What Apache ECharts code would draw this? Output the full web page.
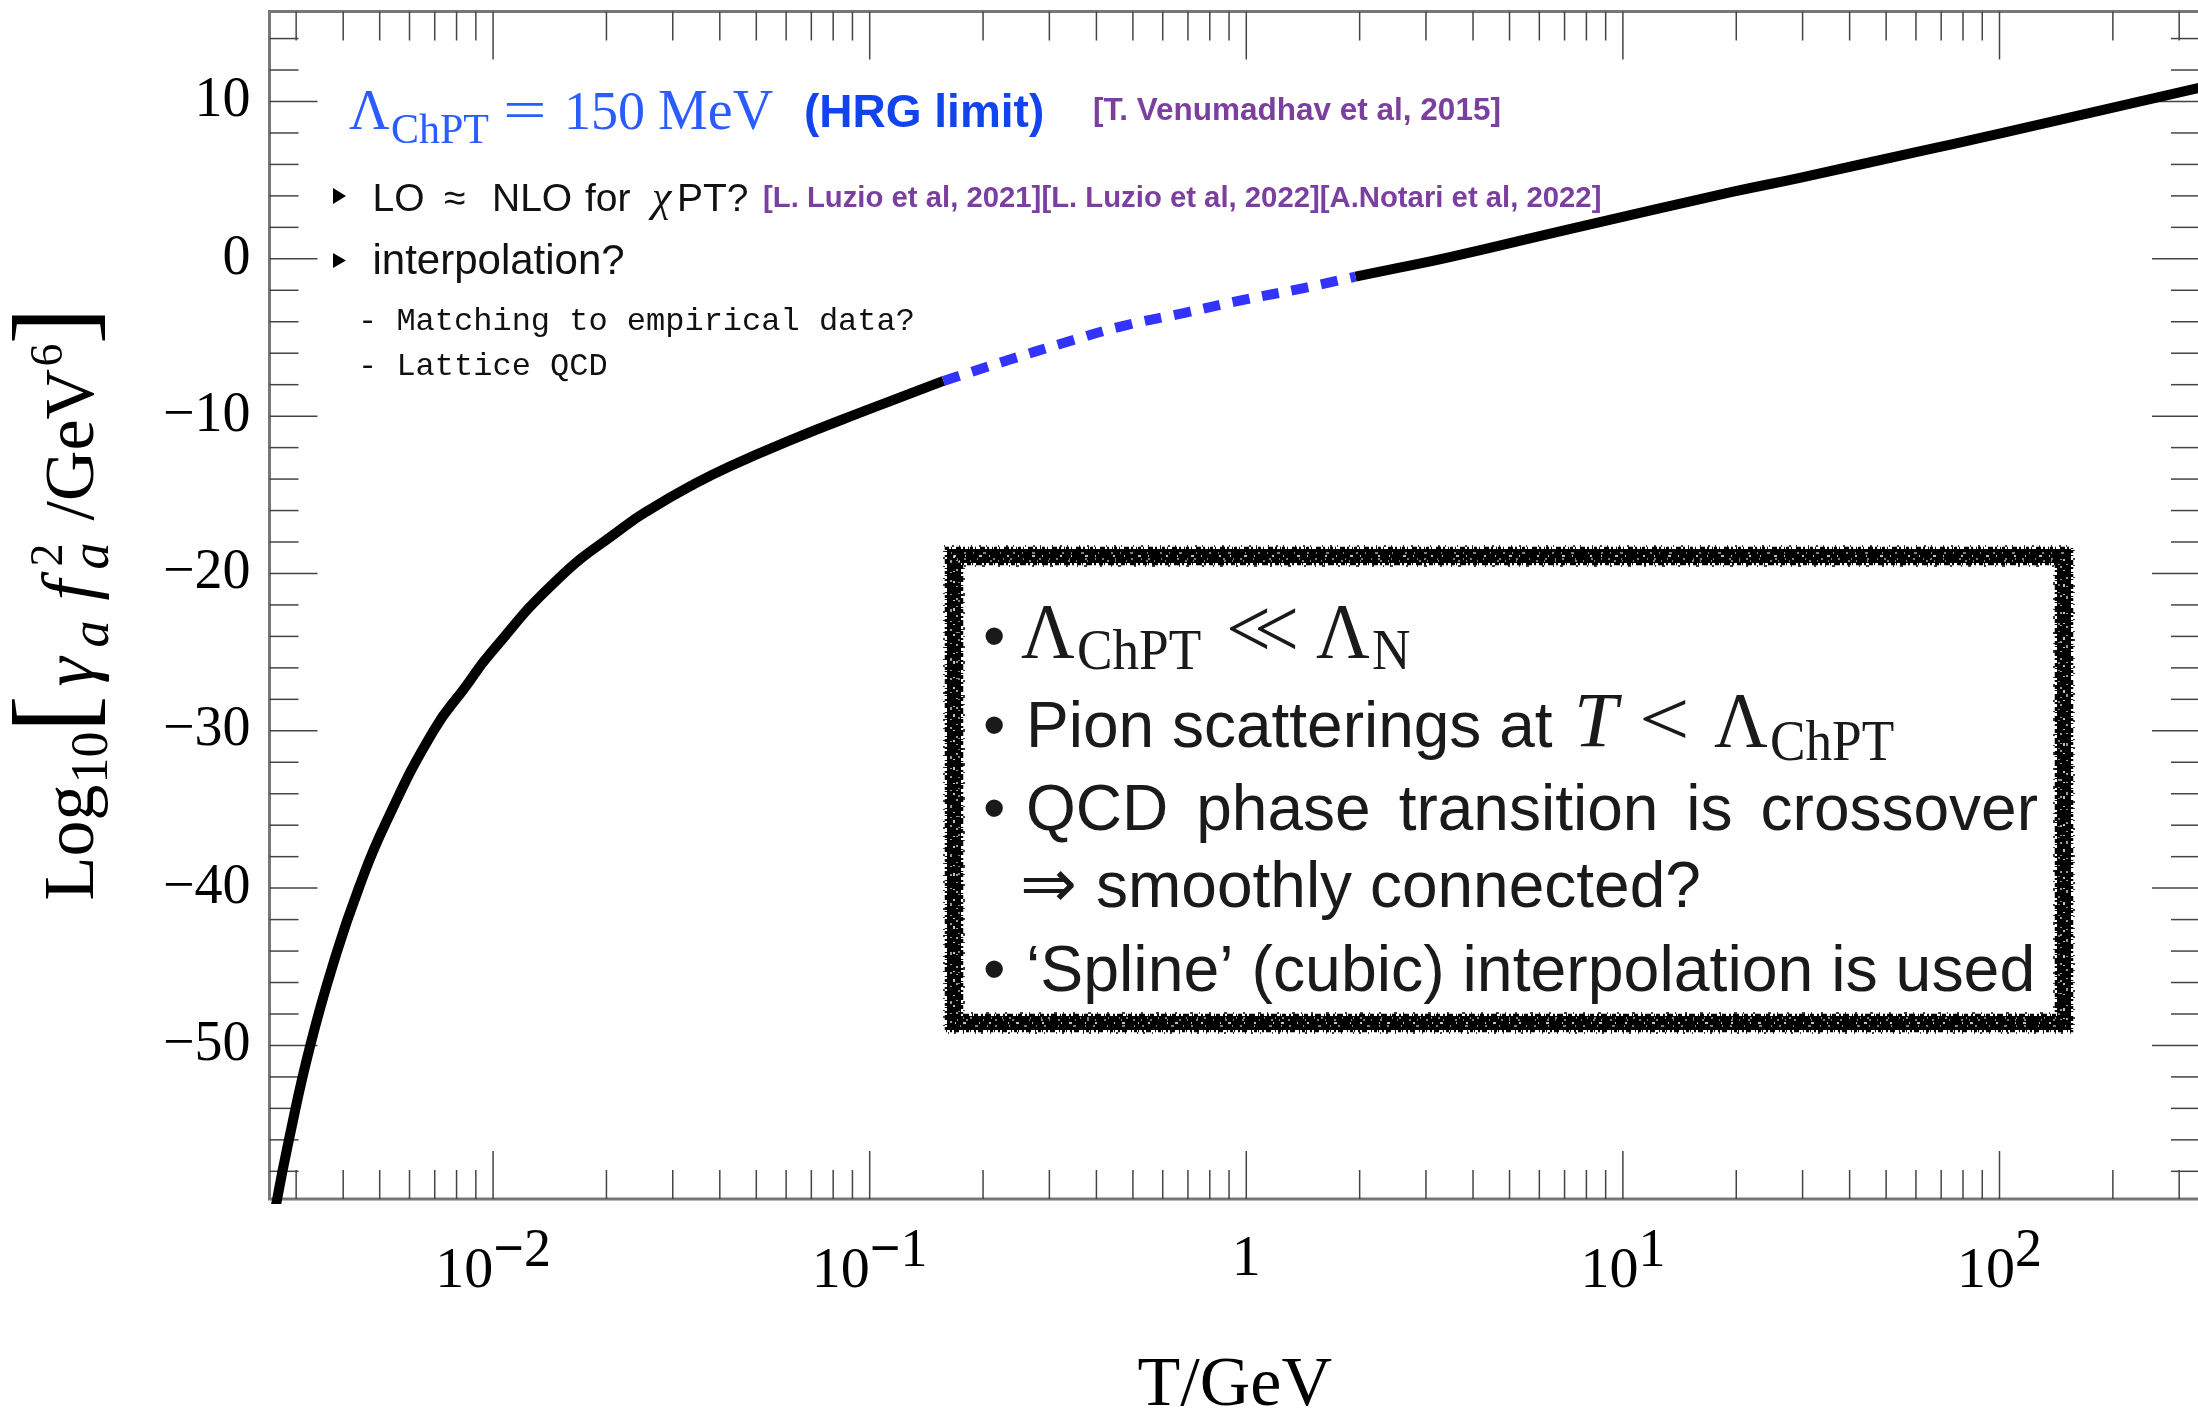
<!DOCTYPE html>
<html>
<head>
<meta charset="utf-8">
<script src="https://cdn.jsdelivr.net/npm/echarts@6/dist/echarts.min.js"></script>
<style>
  html, body { margin: 0; padding: 0; background: #ffffff; }
  #chart { width: 2198px; height: 1410px; }
</style>
</head>
<body>
<div id="chart"></div>
<script>
// log10[gamma_a f_a^2 / GeV^6] versus temperature T (GeV)

// chiral perturbation theory branch (low T)
const T_CHPT   = [0.00265, 0.00287, 0.00327, 0.00381, 0.00440, 0.00518, 0.00695, 0.00848,
                  0.00982, 0.0148, 0.0222, 0.0261, 0.0334, 0.0426, 0.0626, 0.0982, 0.157];
const LOG_CHPT = [-60.2, -56.0, -50.0, -44.4, -40.0, -35.9, -30.0, -27.15,
                  -25.1, -20.4, -17.06, -15.93, -14.45, -13.18, -11.46, -9.62, -7.76];

// cubic spline bridge across the crossover region
const T_SPLINE   = [0.157, 0.231, 0.330, 0.472, 0.681, 0.982, 1.42, 1.95];
const LOG_SPLINE = [-7.76, -6.47, -5.32, -4.26, -3.45, -2.61, -1.86, -1.13];

// high temperature branch
const T_HIGH   = [1.95, 2.57, 3.47, 7.41, 19.5, 29.5, 61.7, 100, 347];
const LOG_HIGH = [-1.13, -0.55, 0.10, 1.95, 4.25, 5.15, 6.85, 7.95, 10.92];

// axes
const X_MIN = 0.002549, X_MAX = 340.7;
const Y_MIN = -59.76, Y_MAX = 15.72;
const X_MAJOR = [0.01, 0.1, 1, 10, 100];
const Y_LABELS = [-50, -40, -30, -20, -10, 0, 10];

const SERIF = "'Liberation Serif', 'Times New Roman', serif";
const SANS = "'Liberation Sans', Arial, sans-serif";
const MONO = "'Liberation Mono', 'Courier New', monospace";
const BLUE_MATH = '#2a5cff';
const BLUE_BOLD = '#1144ee';
const PURPLE = '#7b3fa0';
const INK = '#1a1a1a';

const MAJOR_LEN = 48, MINOR_LEN = 29;

// minor ticks: 2..9 within each decade, every 2 units on the vertical axis
const X_MINOR = [];
for (let e = -3; e <= 2; e++) {
  for (let m = 2; m <= 9; m++) {
    const v = m * Math.pow(10, e);
    if (v > X_MIN && v < X_MAX) X_MINOR.push(v);
  }
}
const Y_MAJOR = Y_LABELS.slice();
const Y_MINOR = [];
for (let v = -58; v <= 14; v += 2) if (v % 10 !== 0) Y_MINOR.push(v);

const tickData = [].concat(
  X_MAJOR.map(v => [v, Y_MIN, 0, MAJOR_LEN]),
  X_MINOR.map(v => [v, Y_MIN, 0, MINOR_LEN]),
  Y_MAJOR.map(v => [X_MIN, v, 1, MAJOR_LEN]),
  Y_MINOR.map(v => [X_MIN, v, 1, MINOR_LEN])
);

const pairs = (xs, ys) => xs.map((x, i) => [x, ys[i]]);

// text helpers: place a run by its alphabetic baseline
const meas = document.createElement('canvas').getContext('2d');
function midOffset(font) {
  meas.font = font;
  meas.textBaseline = 'middle';
  return meas.measureText('H').actualBoundingBoxDescent;
}
function textWidth(text, font) {
  meas.font = font;
  meas.textBaseline = 'alphabetic';
  return meas.measureText(text).width;
}
function txt(text, x, base, font, fill, sx) {
  return {
    type: 'text', x: x, y: base - midOffset(font), scaleX: sx || 1, silent: true,
    style: { text: text, font: font, fill: fill, x: 0, y: 0,
             textAlign: 'left', textVerticalAlign: 'middle', verticalAlign: 'middle' }
  };
}

const graphics = [];

// vertical axis title
graphics.push({
  type: 'group', x: 93, y: 900.5, rotation: Math.PI / 2, silent: true,
  children: [
    txt('Log', 0, 0, `72px ${SERIF}`, '#000'),
    txt('10', 117, 14, `52px ${SERIF}`, '#000'),
    txt('[', 168, -2, `112px ${SERIF}`, '#000'),
    txt('\u03b3', 214, 0, `italic 74px ${SERIF}`, '#000'),
    txt('a', 253, 15, `italic 54px ${SERIF}`, '#000'),
    txt('f', 300, 0, `italic 74px ${SERIF}`, '#000'),
    txt('2', 334, -31, `46px ${SERIF}`, '#000'),
    txt('a', 331, 15, `italic 54px ${SERIF}`, '#000'),
    txt('/GeV', 380, 0, `70px ${SERIF}`, '#000'),
    txt('6', 534, -31, `46px ${SERIF}`, '#000'),
    txt(']', 556, -2, `112px ${SERIF}`, '#000')
  ]
});

// headline
graphics.push(
  txt('\u039b', 349, 129, `56px ${SERIF}`, BLUE_MATH),
  txt('ChPT', 391, 143, `42px ${SERIF}`, BLUE_MATH),
  txt('=', 503, 129, `56px ${SERIF}`, BLUE_MATH, 1.38),
  txt('150', 564, 129, `54px ${SERIF}`, BLUE_MATH),
  txt('MeV', 658, 129, `56px ${SERIF}`, BLUE_MATH),
  txt('(HRG limit)', 804, 127, `bold 46px ${SANS}`, BLUE_BOLD),
  txt('[T. Venumadhav et al, 2015]', 1093, 120, `bold 31.5px ${SANS}`, PURPLE)
);

// bullet list
const SMALL = `39px ${SANS}`;
graphics.push(
  { type: 'polygon', silent: true, shape: { points: [[333, 188], [346, 196], [333, 204]] }, style: { fill: '#000' } },
  { type: 'polygon', silent: true, shape: { points: [[333, 253], [346, 260.5], [333, 268]] }, style: { fill: '#000' } },
  txt('LO', 372.5, 210.7, SMALL, '#111'),
  txt('\u2248', 444, 210.7, SMALL, '#111'),
  txt('NLO', 492, 210.7, SMALL, '#111'),
  txt('for', 585, 210.7, SMALL, '#111'),
  txt('\u03c7', 652, 210.7, `italic 44px ${SERIF}`, '#111'),
  txt('PT?', 677, 210.7, SMALL, '#111'),
  txt('[L. Luzio et al, 2021][L. Luzio et al, 2022][A.Notari et al, 2022]', 763, 207, `bold 29.3px ${SANS}`, PURPLE),
  txt('interpolation?', 372.5, 274, `42px ${SANS}`, '#111'),
  txt('- Matching to empirical data?', 358, 330, `32px ${MONO}`, '#111'),
  txt('- Lattice QCD', 358, 375, `32px ${MONO}`, '#111')
);

// framed box with the assumptions (rough chalk-like border)
const BOX = { x: 954, y: 556, w: 1110, h: 467 };
function frame(off, stroke, lw, dash) {
  return { type: 'rect', silent: true,
    shape: { x: BOX.x - off, y: BOX.y - off, width: BOX.w + 2 * off, height: BOX.h + 2 * off },
    style: { fill: 'none', stroke: stroke, lineWidth: lw, lineDash: dash || null } };
}
graphics.push(
  frame(0, '#000', 14),
  frame(8, '#000', 2.5, [3, 2, 1, 4, 5, 2, 2, 3, 1, 1]),
  frame(-8, '#000', 2.5, [2, 3, 4, 1, 1, 3, 6, 2]),
  frame(10, '#000', 1.5, [1, 7, 2, 5, 1, 11]),
  frame(-10, '#000', 1.5, [2, 9, 1, 6, 3, 13]),
  frame(0, '#fff', 1.5, [2, 9, 1, 13, 3, 7, 1, 17]),
  frame(-3, '#fff', 1.2, [1, 6, 2, 11, 1, 15, 2, 8]),
  frame(3, '#fff', 1.2, [1, 12, 2, 7, 1, 9, 3, 14]),
  frame(-5, '#fff', 1, [1, 10, 1, 19, 2, 6])
);

const BODY = `64px ${SANS}`;
const MATH = `78px ${SERIF}`;
const MATH_SUB = `56px ${SERIF}`;
const LINE_Y = [658, 747, 830, 906.5, 991];
const TEXT_X = 1026;
[0, 1, 2, 4].forEach(i => graphics.push(txt('\u2022', 983, LINE_Y[i], BODY, INK)));
graphics.push(
  txt('\u039b', 1021, LINE_Y[0], MATH, INK, 0.95),
  txt('ChPT', 1077, LINE_Y[0] + 11, MATH_SUB, INK, 0.95),
  txt('<', 1226, LINE_Y[0] - 1, `84px ${SERIF}`, INK, 0.95),
  txt('<', 1254, LINE_Y[0] - 1, `84px ${SERIF}`, INK, 0.95),
  txt('\u039b', 1316, LINE_Y[0], MATH, INK, 0.95),
  txt('N', 1372, LINE_Y[0] + 11, MATH_SUB, INK, 0.95),

  txt('Pion scatterings at', TEXT_X, LINE_Y[1], BODY, INK),
  txt('T', 1574, LINE_Y[1], `italic ${MATH}`, INK),
  txt('<', 1639, LINE_Y[1] - 1, MATH, INK, 1.15),
  txt('\u039b', 1714, LINE_Y[1], MATH, INK, 0.95),
  txt('ChPT', 1770, LINE_Y[1] + 13, MATH_SUB, INK, 0.95),

  txt('\u21d2', 1020, LINE_Y[3], `68px 'DejaVu Sans', sans-serif`, INK),
  txt('smoothly connected?', 1096, LINE_Y[3], BODY, INK),
  txt('\u2018Spline\u2019 (cubic) interpolation is used', TEXT_X, LINE_Y[4], BODY, INK, 1.006)
);
// justified line
(function () {
  const words = ['QCD', 'phase', 'transition', 'is', 'crossover'];
  const ws = words.map(w => textWidth(w, BODY));
  const total = ws.reduce((a, b) => a + b, 0);
  const gap = (2038 - TEXT_X - total) / (words.length - 1);
  let x = TEXT_X;
  words.forEach((w, i) => { graphics.push(txt(w, x, LINE_Y[2], BODY, INK)); x += ws[i] + gap; });
})();

function renderTick(params, api) {
  const cs = params.coordSys;
  const p = api.coord([api.value(0), api.value(1)]);
  const len = api.value(3);
  const style = { stroke: '#444', lineWidth: 1.5 };
  if (api.value(2) === 0) {
    const yb = cs.y + cs.height, yt = cs.y;
    return { type: 'group', children: [
      { type: 'line', shape: { x1: p[0], y1: yb, x2: p[0], y2: yb - len }, style: style },
      { type: 'line', shape: { x1: p[0], y1: yt, x2: p[0], y2: yt + len }, style: style }
    ] };
  }
  const xl = cs.x, xr = cs.x + cs.width;
  return { type: 'group', children: [
    { type: 'line', shape: { x1: xl, y1: p[1], x2: xl + len, y2: p[1] }, style: style },
    { type: 'line', shape: { x1: xr, y1: p[1], x2: xr - len, y2: p[1] }, style: style }
  ] };
}

function xLabel(v) {
  const e = Math.round(Math.log10(v));
  if (Math.abs(Math.log10(v) - e) > 1e-6) return '';
  if (e === 0) return '{o|1}';
  return '{b|10}' + (e < 0 ? '{m|\u2212}{s|' + (-e) + '}' : '{s|' + e + '}');
}

const curveStyle = { color: '#000', width: 10, cap: 'butt', join: 'round' };

const chart = echarts.init(document.getElementById('chart'), null, { renderer: 'canvas' });
chart.setOption({
  animation: false,
  backgroundColor: '#ffffff',
  grid: { left: 269.5, right: -2, top: 11.5, bottom: 211, show: true, outerBoundsMode: 'none',
          containLabel: false, borderColor: '#777', borderWidth: 3, backgroundColor: 'transparent' },
  xAxis: {
    type: 'log', logBase: 10, min: X_MIN, max: X_MAX,
    axisLine: { show: false }, axisTick: { show: false }, splitLine: { show: false },
    axisLabel: {
      margin: 38, formatter: xLabel,
      rich: {
        b: { fontFamily: SERIF, fontSize: 58, lineHeight: 70, color: '#000' },
        o: { fontFamily: SERIF, fontSize: 58, lineHeight: 70, color: '#000', padding: [0, 0, 24, 0] },
        m: { fontFamily: SERIF, fontSize: 54, fontWeight: 'bold', lineHeight: 70, color: '#000', padding: [0, 0, 40, 0] },
        s: { fontFamily: SERIF, fontSize: 54, lineHeight: 70, color: '#000', padding: [0, 0, 40, 0] }
      }
    },
    name: 'T/GeV', nameLocation: 'middle', nameGap: 163,
    nameTextStyle: { fontFamily: SERIF, fontSize: 70, lineHeight: 50, color: '#000' }
  },
  yAxis: {
    type: 'value', min: Y_MIN, max: Y_MAX, splitNumber: 8,
    axisLine: { show: false }, axisTick: { show: false }, splitLine: { show: false },
    axisLabel: {
      customValues: Y_LABELS, margin: 19, fontFamily: SERIF, fontSize: 56, color: '#000',
      formatter: v => (Math.abs(v % 10) > 1e-9 ? '' : (v < 0 ? '\u2212' + (-v) : String(v)))
    }
  },
  graphic: { elements: graphics },
  series: [
    { type: 'custom', renderItem: renderTick, data: tickData, encode: { x: 0, y: 1 },
      z: 1, silent: true, clip: false },
    { type: 'line', data: pairs(T_CHPT, LOG_CHPT), symbol: 'none', smooth: 0.5,
      lineStyle: curveStyle, z: 3, silent: true, clip: true },
    { type: 'line', data: pairs(T_SPLINE, LOG_SPLINE), symbol: 'none', smooth: 0.5,
      lineStyle: { color: '#3333ff', width: 10, type: [17, 13], cap: 'butt' }, z: 4, silent: true, clip: true },
    { type: 'line', data: pairs(T_HIGH, LOG_HIGH), symbol: 'none', smooth: 0.5,
      lineStyle: curveStyle, z: 3, silent: true, clip: true }
  ]
});
</script>
</body>
</html>
